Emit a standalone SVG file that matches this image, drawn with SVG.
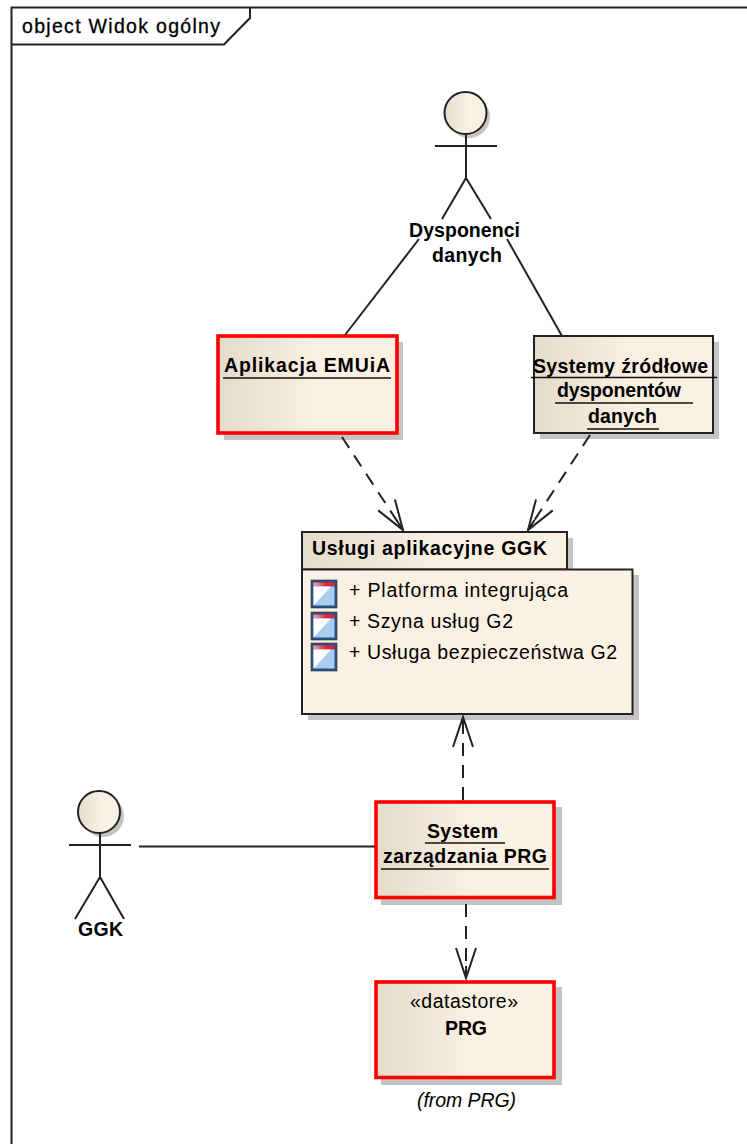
<svg xmlns="http://www.w3.org/2000/svg" width="747" height="1144" viewBox="0 0 747 1144">
<style>
text{font-family:"Liberation Sans",Arial,sans-serif;font-size:19.5px;fill:#000}
.b{font-weight:bold}
.s{fill:#c4c4c4;stroke:none}
.fr{fill:url(#g);stroke:#f00;stroke-width:3.600}
.fk{fill:url(#g);stroke:#222;stroke-width:2}
.ln{fill:none;stroke:#222;stroke-width:2}
.u{stroke:#111;stroke-width:1.6}
.d{fill:none;stroke:#222;stroke-width:2;stroke-dasharray:13 9;marker-end:url(#a)}
.ib{fill:#2b4f85;stroke:#333;stroke-width:.6}
</style>
<defs>
<linearGradient id="g"><stop offset="0" stop-color="#e5dbcb"/><stop offset=".55" stop-color="#fbf1e3"/></linearGradient>
<linearGradient id="r"><stop offset="0" stop-color="#eba9b0"/><stop offset=".6" stop-color="#ea2036"/></linearGradient>
<marker id="a" markerUnits="userSpaceOnUse" viewBox="-32 -12 44 24" refX="0" refY="0" markerWidth="44" markerHeight="24" orient="auto"><path d="M-30-10L0 0L-30 10M-12 0H0" fill="none" stroke="#222" stroke-width="2" stroke-miterlimit="10"/></marker>
<g id="ic"><rect class="ib" x="0" y="0" width="26" height="28"/><rect x="2.500" y="2.500" width="21" height="4" fill="url(#r)"/><rect x="2.500" y="6.500" width="21" height="19" fill="#a9cdf0"/><path d="M2.500 6.500H20L2.500 25.500Z" fill="#fff"/></g>
</defs>
<rect width="747" height="1144" fill="#fff"/>

<g id="frame">
<path class="ln" d="M747 7.500H11.500V1144"/>
<path class="ln" d="M11.500 44.500H224L250 18V7.500"/>
<text x="22" y="33" textLength="198" stroke="#000" stroke-width=".3">object Widok ogólny</text>
</g>

<g id="dysponenci">
<circle class="s" cx="469" cy="117" r="21"/>
<circle cx="465.500" cy="113" r="21" fill="url(#g)" stroke="#222" stroke-width="2"/>
<path class="ln" d="M435 146H497M466 134V178M442 219L466 178L491 219"/>
<text class="b" x="409" y="237" textLength="111">Dysponenci</text>
<text class="b" x="432" y="262" textLength="70">danych</text>
</g>

<g id="aplikacja">
<rect class="s" x="224" y="342" width="179" height="98"/>
<rect class="fr" x="218" y="336" width="179" height="97"/>
<text class="b" x="224" y="372" textLength="166">Aplikacja EMUiA</text>
<line class="u" x1="223" y1="378" x2="391" y2="378"/>
</g>

<g id="systemy">
<rect class="s" x="540" y="342" width="179" height="97"/>
<rect class="fk" x="534" y="336" width="179" height="97"/>
<text class="b" x="533" y="373" textLength="175">Systemy źródłowe</text>
<line class="u" x1="531" y1="377.500" x2="717" y2="377.500"/>
<text class="b" x="557" y="397" textLength="124">dysponentów</text>
<line class="u" x1="555" y1="403" x2="693" y2="403"/>
<text class="b" x="588" y="423" textLength="69">danych</text>
<line class="u" x1="587" y1="429" x2="659" y2="429"/>
</g>

<g id="uslugi">
<path class="s" d="M308 538H573V575H639V720H308Z"/>
<rect class="fk" x="302" y="532" width="265" height="37.500"/>
<rect x="302" y="569.500" width="330.500" height="144.500" fill="#fbf1e3" stroke="#222" stroke-width="2"/>
<text class="b" x="312" y="555" textLength="235">Usługi aplikacyjne GGK</text>
<use href="#ic" x="311" y="580"/>
<use href="#ic" x="311" y="612"/>
<use href="#ic" x="311" y="643"/>
<text x="349" y="597" textLength="219">+ Platforma integrująca</text>
<text x="349" y="628" textLength="164">+ Szyna usług G2</text>
<text x="349" y="659" textLength="268">+ Usługa bezpieczeństwa G2</text>
</g>

<g id="system-prg">
<rect class="s" x="381" y="807" width="181" height="98"/>
<rect class="fr" x="376" y="802" width="178" height="95.500"/>
<text class="b" x="427" y="838" textLength="71">System</text>
<line class="u" x1="425" y1="843" x2="505" y2="843"/>
<text class="b" x="383" y="863" textLength="164">zarządzania PRG</text>
<line class="u" x1="381" y1="869" x2="549" y2="869"/>
</g>

<g id="ggk">
<circle class="s" cx="103" cy="816" r="21"/>
<circle cx="99" cy="812" r="21" fill="url(#g)" stroke="#222" stroke-width="2"/>
<path class="ln" d="M69 845H131M100 833V877M75 919L100 877L124 919"/>
<text class="b" x="78" y="936" textLength="45">GGK</text>
</g>

<g id="prg">
<rect class="s" x="381" y="987" width="181" height="98"/>
<rect class="fr" x="376" y="982" width="178" height="95.500"/>
<text x="410" y="1008" textLength="108">«datastore»</text>
<text class="b" x="445" y="1035" textLength="42">PRG</text>
<text x="417" y="1107" textLength="99" font-style="italic">(from PRG)</text>
</g>

<g id="connectors">
<path class="ln" d="M345 335L419 239"/>
<path class="ln" d="M562 336L507 239"/>
<path class="d" d="M342 437L403 530"/>
<path class="d" d="M590 435L528 530"/>
<path class="d" d="M463 800V717"/>
<path class="d" d="M466 904V978"/>
<path class="ln" d="M139 846.500H375"/>
</g>
</svg>
